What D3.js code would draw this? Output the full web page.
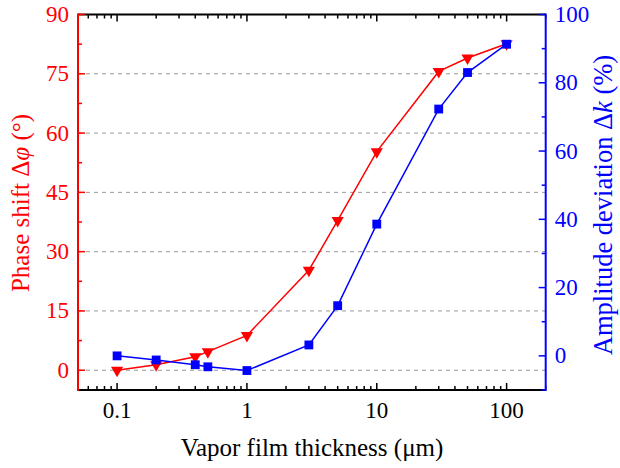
<!DOCTYPE html>
<html><head><meta charset="utf-8">
<script src="https://cdn.jsdelivr.net/npm/d3@7"></script>
</head><body style="margin:0">
<svg id="c" width="620" height="468" style="font-family:'Times New Roman'"></svg>
<script>
const thickness = [0.1, 0.2, 0.4, 0.5, 1, 3, 5, 10, 30, 50, 100];
const phaseShift = [0, 1.4, 3.4, 4.7, 8.8, 25.3, 37.9, 55.3, 75.6, 79.0, 82.6];
const ampDeviation = [0, -1.2, -2.6, -3.2, -4.3, 3.2, 14.7, 38.6, 72.3, 83.0, 91.3];
const xTicks = [0.1, 1, 10, 100];
const xTickLabels = ["0.1", "1", "10", "100"];
const leftTicks = [0, 15, 30, 45, 60, 75, 90];
const rightTicks = [0, 20, 40, 60, 80, 100];

const svg = d3.select("#c");
const L = 78, R = 545.7, T = 14.5, B = 390;
const x = d3.scaleLog().domain([0.05, 200]).range([L, R]);
const yL = d3.scaleLinear().domain([-5, 90]).range([B, T]);
const yR = d3.scaleLinear().domain([-10, 100]).range([B, T]);
const RED = "#ff0000", BLUE = "#0000ff";
const FONT = '"Times New Roman"';

// gridlines
svg.append("g").selectAll("line").data(leftTicks.filter(d => d < 90)).join("line")
  .attr("x1", L).attr("x2", R).attr("y1", d => yL(d)).attr("y2", d => yL(d))
  .attr("stroke", "#999").attr("stroke-width", 1).attr("stroke-dasharray", "4,4");

// minor x ticks
const minorX = [];
for (let e = -2; e <= 2; e++) for (let m = 1; m <= 9; m++) {
  const v = m * Math.pow(10, e);
  if (v >= 0.05 && v <= 200 && m !== 1) minorX.push(v);
}
function xAxis(y, dir, labels) {
  const g = svg.append("g");
  g.selectAll(".mj").data(xTicks).join("line")
    .attr("x1", d => x(d)).attr("x2", d => x(d)).attr("y1", y).attr("y2", y + dir * 7)
    .attr("stroke", "#000").attr("stroke-width", 1.5);
  g.selectAll(".mn").data(minorX).join("line")
    .attr("x1", d => x(d)).attr("x2", d => x(d)).attr("y1", y).attr("y2", y + dir * 4)
    .attr("stroke", "#000").attr("stroke-width", 1.5);
  g.append("line").attr("x1", L).attr("x2", R).attr("y1", y).attr("y2", y)
    .attr("stroke", "#000").attr("stroke-width", 2);
  if (labels) {
    g.selectAll("text").data(xTicks).join("text")
      .attr("x", d => x(d)).attr("y", y + 28).attr("text-anchor", "middle")
      .style("font-family", FONT).style("font-size", "23px").text((d, i) => xTickLabels[i]);
  }
}
xAxis(B, -1, true);
xAxis(T, 1, false);

// left axis
const gl = svg.append("g");
const leftMinor = leftTicks.slice(0, -1).map(d => d + 7.5);
gl.selectAll(".mj").data(leftTicks).join("line")
  .attr("x1", L).attr("x2", L + 7).attr("y1", d => yL(d)).attr("y2", d => yL(d))
  .attr("stroke", RED).attr("stroke-width", 1.5);
gl.selectAll(".mn").data(leftMinor).join("line")
  .attr("x1", L).attr("x2", L + 4).attr("y1", d => yL(d)).attr("y2", d => yL(d))
  .attr("stroke", RED).attr("stroke-width", 1.5);
gl.append("line").attr("x1", L).attr("x2", L).attr("y1", T - 1).attr("y2", B + 1)
  .attr("stroke", RED).attr("stroke-width", 2);
gl.selectAll("text").data(leftTicks).join("text")
  .attr("x", L - 9).attr("y", d => yL(d) + 7.5).attr("text-anchor", "end")
  .style("font-family", FONT).style("font-size", "23px").attr("fill", RED).text(d => d);

// right axis
const gr = svg.append("g");
const rightMinor = [-10, 10, 30, 50, 70, 90];
gr.selectAll(".mj").data(rightTicks).join("line")
  .attr("x1", R).attr("x2", R - 7).attr("y1", d => yR(d)).attr("y2", d => yR(d))
  .attr("stroke", BLUE).attr("stroke-width", 1.5);
gr.selectAll(".mn").data(rightMinor).join("line")
  .attr("x1", R).attr("x2", R - 4).attr("y1", d => yR(d)).attr("y2", d => yR(d))
  .attr("stroke", BLUE).attr("stroke-width", 1.5);
gr.append("line").attr("x1", R).attr("x2", R).attr("y1", T - 1).attr("y2", B + 1)
  .attr("stroke", BLUE).attr("stroke-width", 2);
gr.selectAll("text").data(rightTicks).join("text")
  .attr("x", R + 9).attr("y", d => yR(d) + 7.5).attr("text-anchor", "start")
  .style("font-family", FONT).style("font-size", "23px").attr("fill", BLUE).text(d => d);

// series
const redData = thickness.map((t, i) => [t, phaseShift[i]]);
const blueData = thickness.map((t, i) => [t, ampDeviation[i]]);
svg.append("path").datum(redData)
  .attr("d", d3.line().x(d => x(d[0])).y(d => yL(d[1])))
  .attr("fill", "none").attr("stroke", RED).attr("stroke-width", 1.5);
svg.append("g").selectAll("path").data(redData).join("path")
  .attr("d", d3.symbol(d3.symbolTriangle, 64)())
  .attr("transform", d => `translate(${x(d[0])},${yL(d[1])}) rotate(180)`)
  .attr("fill", RED);
svg.append("path").datum(blueData)
  .attr("d", d3.line().x(d => x(d[0])).y(d => yR(d[1])))
  .attr("fill", "none").attr("stroke", BLUE).attr("stroke-width", 1.5);
svg.append("g").selectAll("path").data(blueData).join("path")
  .attr("d", d3.symbol(d3.symbolSquare, 78)())
  .attr("transform", d => `translate(${x(d[0])},${yR(d[1])})`)
  .attr("fill", BLUE);

// titles
svg.append("text").attr("x", 312).attr("y", 456).attr("text-anchor", "middle")
  .style("font-family", FONT).style("font-size", "25px").text("Vapor film thickness (μm)");
const lt = svg.append("text").attr("transform", `translate(29,203) rotate(-90)`)
  .attr("text-anchor", "middle").style("font-family", FONT).style("font-size", "25px").attr("fill", RED);
lt.append("tspan").text("Phase shift  Δ");
lt.append("tspan").style("font-style", "italic").text("φ");
lt.append("tspan").text(" (°)");
const rt = svg.append("text").attr("transform", `translate(612,205) rotate(-90)`)
  .attr("text-anchor", "middle").style("font-family", FONT).style("font-size", "26.5px").attr("fill", BLUE);
rt.append("tspan").text("Amplitude deviation Δ");
rt.append("tspan").style("font-style", "italic").text("k");
rt.append("tspan").text(" (%)");
</script>
</body></html>
